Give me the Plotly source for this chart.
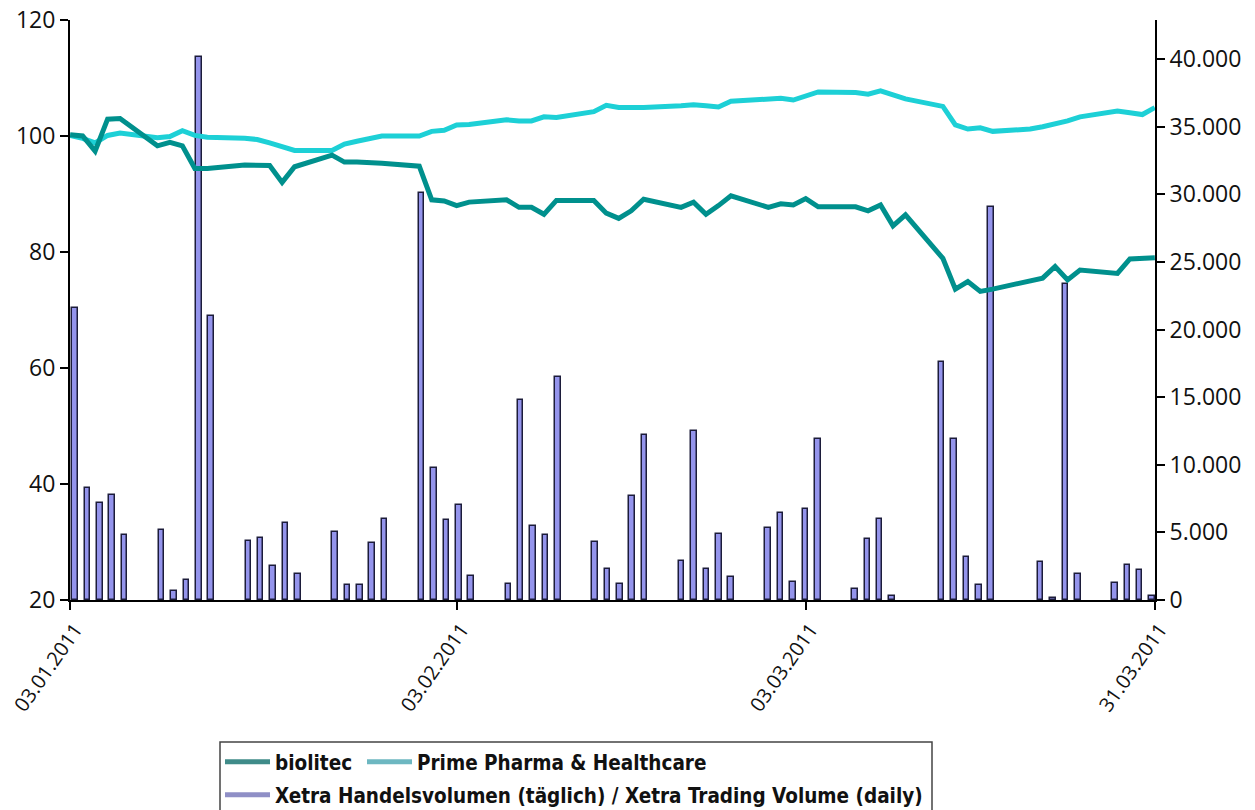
import plotly.graph_objects as go
from datetime import datetime, timedelta

# ---------------- data ----------------
trading_days = [
    "2011-01-03", "2011-01-04", "2011-01-05", "2011-01-06", "2011-01-07",
    "2011-01-10", "2011-01-11", "2011-01-12", "2011-01-13", "2011-01-14",
    "2011-01-17", "2011-01-18", "2011-01-19", "2011-01-20", "2011-01-21",
    "2011-01-24", "2011-01-25", "2011-01-26", "2011-01-27", "2011-01-28",
    "2011-01-31", "2011-02-01", "2011-02-02", "2011-02-03", "2011-02-04",
    "2011-02-07", "2011-02-08", "2011-02-09", "2011-02-10", "2011-02-11",
    "2011-02-14", "2011-02-15", "2011-02-16", "2011-02-17", "2011-02-18",
    "2011-02-21", "2011-02-22", "2011-02-23", "2011-02-24", "2011-02-25",
    "2011-02-28", "2011-03-01", "2011-03-02", "2011-03-03", "2011-03-04",
    "2011-03-07", "2011-03-08", "2011-03-09", "2011-03-10", "2011-03-11",
    "2011-03-14", "2011-03-15", "2011-03-16", "2011-03-17", "2011-03-18",
    "2011-03-21", "2011-03-22", "2011-03-23", "2011-03-24", "2011-03-25",
    "2011-03-28", "2011-03-29", "2011-03-30", "2011-03-31",
]

biolitec = [
    100.2, 100.0, 97.4, 102.9, 103.0,
    98.3, 98.9, 98.3, 94.4, 94.4,
    95.0, 95.0, 94.9, 92.0, 94.7,
    96.7, 95.5, 95.5, 95.5, 95.3,
    94.8, 89.0, 88.8, 88.0, 88.6,
    89.0, 87.7, 87.7, 86.5, 88.9,
    88.9, 86.7, 85.8, 87.1, 89.1,
    87.7, 88.6, 86.5, 88.0, 89.7,
    87.7, 88.3, 88.1, 89.2, 87.8,
    87.8, 87.1, 88.1, 84.5, 86.4,
    78.9, 73.6, 74.9, 73.2, 73.6,
    74.9, 75.5, 77.5, 75.2, 76.9,
    76.3, 78.8, 79.0, 79.0,
]

prime_pharma = [
    100.1, 99.6, 98.8, 100.1, 100.5,
    99.7, 99.9, 100.9, 100.1, 99.8,
    99.6, 99.4, 98.8, 98.2, 97.5,
    97.5, 98.6, 99.1, 99.6, 100.0,
    100.0, 100.8, 101.0, 101.9, 102.0,
    102.8, 102.6, 102.6, 103.3, 103.2,
    104.2, 105.3, 104.9, 104.8, 104.9,
    105.2, 105.4, 105.2, 105.0, 106.0,
    106.3, 106.5, 106.2, 107.0, 107.6,
    107.5, 107.2, 107.8, 107.2, 106.4,
    105.1, 101.9, 101.2, 101.4, 100.8,
    101.2, 101.6, 102.0, 102.6, 103.3,
    104.3, 104.0, 103.7, 104.9,
]

# None = no Xetra volume shown for that day
volume = [
    21600, 8300, 7200, 7800, 4800,
    5200, 700, 1500, 40200, 21000,
    4400, 4600, 2500, 5700, 1900,
    5000, 1100, 1100, 4200, 6000,
    30100, 9800, 5900, 7000, 1800,
    1200, 14800, 5500, 4800, 16500,
    4300, 2300, 1200, 7700, 12200,
    2900, 12500, 2300, 4900, 1700,
    5300, 6400, 1300, 6700, 11900,
    800, 4500, 6000, 300, None,
    17600, 11900, 3200, 1100, 29100,
    None, 2800, 150, 23400, 1900,
    1250, 2600, 2200, 300,
]

x_tick_dates = ["2011-01-03", "2011-02-03", "2011-03-03", "2011-03-31"]
x_tick_labels = ["03.01.2011", "03.02.2011", "03.03.2011", "31.03.2011"]
left_ticks = [20, 40, 60, 80, 100, 120]
right_ticks = [0, 5000, 10000, 15000, 20000, 25000, 30000, 35000, 40000]

name_bio = "biolitec"
name_prime = "Prime Pharma & Healthcare"
name_vol = "Xetra Handelsvolumen (täglich) / Xetra Trading Volume (daily)"

# ---------------- styling ----------------
PAGE_OFF = 8                      # default body margin of the html page
W, H = 1255 - PAGE_OFF, 810 - PAGE_OFF
PW, PH = 1085, 580                # plot area size
L, T = 70 - PAGE_OFF, 20 - PAGE_OFF
R = W - L - PW
B = H - T - PH

C_BIO = "#00908d"
C_PRIME = "#1dd0d6"
C_BAR = "#9494ec"
C_BAR_LINE = "#1c1c3a"
LEG_BIO = "#3f8b89"
LEG_PRIME = "#6db7c1"
LEG_VOL = "#8f8fc6"

TICK_FONT = dict(family="Open Sans, Liberation Sans, sans-serif", size=23, color="#111")
XTICK_FONT = dict(family="Open Sans, Liberation Sans, sans-serif", size=20, color="#111")
LEG_FONT = dict(family="DejaVu Sans Condensed, sans-serif",
                size=20.5, color="#111", weight="bold")

DAY_MS = 86400000


def px_to_paper_x(px):
    # px given in page (screenshot) coordinates
    return (px - PAGE_OFF - L) / PW


def py_to_paper_y(py):
    return (T + PH - (py - PAGE_OFF)) / PH


fig = go.Figure()

# volume bars (primary axes, drawn first / behind)
fig.add_trace(go.Bar(
    x=trading_days, y=volume, xaxis="x", yaxis="y",
    width=0.45 * DAY_MS,
    marker=dict(color=C_BAR, line=dict(color=C_BAR_LINE, width=1.5)),
    showlegend=False, name=name_vol,
))

# index lines (overlay axes, drawn on top)
fig.add_trace(go.Scatter(
    x=trading_days, y=prime_pharma, xaxis="x2", yaxis="y2", mode="lines",
    line=dict(color=C_PRIME, width=5), showlegend=False, name=name_prime,
))
fig.add_trace(go.Scatter(
    x=trading_days, y=biolitec, xaxis="x2", yaxis="y2", mode="lines",
    line=dict(color=C_BIO, width=5), showlegend=False, name=name_bio,
))

# legend entries
fig.add_trace(go.Scatter(x=[None], y=[None], xaxis="x2", yaxis="y2", mode="lines",
                         line=dict(color=LEG_BIO, width=5), name=name_bio, legend="legend"))
fig.add_trace(go.Scatter(x=[None], y=[None], xaxis="x2", yaxis="y2", mode="lines",
                         line=dict(color=LEG_PRIME, width=5), name=name_prime, legend="legend3"))
fig.add_trace(go.Scatter(x=[None], y=[None], xaxis="x2", yaxis="y2", mode="lines",
                         line=dict(color=LEG_VOL, width=5), name=name_vol, legend="legend2"))

start = datetime(2011, 1, 3)
end = datetime(2011, 3, 31)
line_r0 = start - timedelta(minutes=20)
line_r1 = end + timedelta(minutes=20)
bar_px_per_day = 12.38
bar_r0 = start - timedelta(days=5 / bar_px_per_day)
bar_r1 = bar_r0 + timedelta(days=PW / bar_px_per_day)

axis_common = dict(showline=True, linecolor="black", linewidth=2, ticks="outside", ticklen=8,
                   tickwidth=1.5, tickcolor="black", showgrid=False, zeroline=False,
                   automargin=False, ticklabeloverflow="allow")

leg_common = dict(orientation="h", xanchor="left", yanchor="middle", font=LEG_FONT,
                  bgcolor="rgba(0,0,0,0)", itemwidth=45)

fig.update_layout(
    width=W, height=H,
    margin=dict(l=L, r=R, t=T, b=B, autoexpand=False),
    paper_bgcolor="white", plot_bgcolor="white",
    separators=",.",
    bargap=0,
    xaxis=dict(type="date", range=[bar_r0, bar_r1], visible=False, fixedrange=True,
               automargin=False),
    yaxis=dict(side="right", range=[0, 42900], tickvals=right_ticks, tickformat=",d",
               tickfont=TICK_FONT, **axis_common),
    xaxis2=dict(type="date", overlaying="x", side="bottom", anchor="y2",
                range=[line_r0, line_r1],
                tickvals=x_tick_dates, ticktext=x_tick_labels, tickangle=-55,
                ticklabelshift=5,
                tickfont=XTICK_FONT, **axis_common),
    yaxis2=dict(overlaying="y", side="left", anchor="x2", range=[20, 120], tickvals=left_ticks,
                tickfont=TICK_FONT, **axis_common),
    legend=dict(x=px_to_paper_x(220), y=py_to_paper_y(762), **leg_common),
    legend3=dict(x=px_to_paper_x(362), y=py_to_paper_y(762), **leg_common),
    legend2=dict(x=px_to_paper_x(220), y=py_to_paper_y(795), **leg_common),
    shapes=[dict(type="rect", xref="paper", yref="paper",
                 x0=px_to_paper_x(220), x1=px_to_paper_x(932),
                 y0=py_to_paper_y(742), y1=py_to_paper_y(815),
                 line=dict(color="#444", width=1.5), fillcolor="rgba(0,0,0,0)", layer="below")],
)

fig.write_html("out.html")
